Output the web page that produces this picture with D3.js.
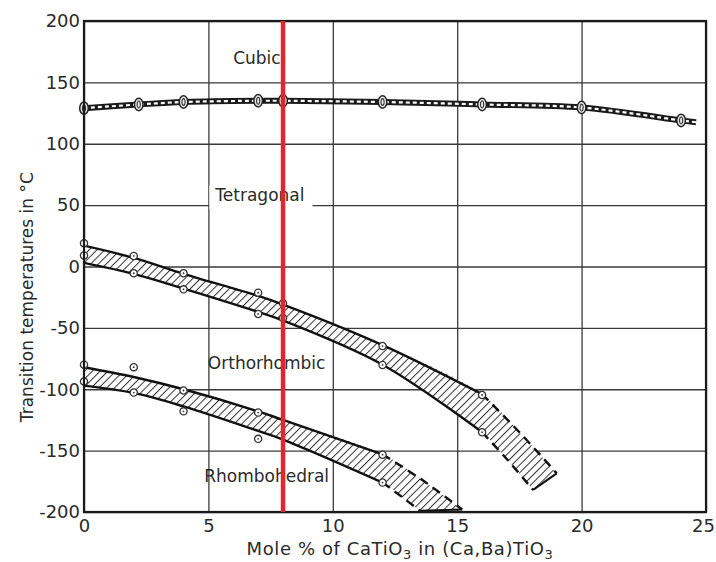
<!DOCTYPE html>
<html>
<head>
<meta charset="utf-8">
<script src="https://cdn.jsdelivr.net/npm/d3@7"></script>
<style>
  body { margin: 0; background: #fff; }
  text { font-family: "DejaVu Sans", sans-serif; fill: #2a2a2a; }
</style>
</head>
<body>
<svg id="chart"></svg>
<script>
// axis ticks
const xTicks = [0, 5, 10, 15, 20, 25];
const yTicks = [200, 150, 100, 50, 0, -50, -100, -150, -200];

// cubic / tetragonal transition
const cubicX = [0, 2.2, 4, 7, 8, 12, 16, 20, 24];
const cubicT = [129, 132, 134, 135, 135, 134, 132, 129.5, 119];
const cubicEndX = [24.6];
const cubicEndT = [117.5];

// tetragonal / orthorhombic band
const otUpperX = [0, 2, 4, 7, 8, 12, 16];
const otUpperT = [17, 7, -6, -24, -31, -64, -104];
const otLowerX = [0, 2, 4, 7, 8, 12, 16];
const otLowerT = [3, -6, -18, -37, -44, -80, -135];
const otUpperDashX = [16, 17.5, 19];
const otUpperDashT = [-104, -135, -168.5];
const otLowerDashX = [16, 17, 18.05];
const otLowerDashT = [-135, -157, -182];
const otPtsX = [0, 0, 2, 2, 4, 4, 7, 7, 8, 8, 12, 12, 16, 16];
const otPtsT = [19, 9, 8.6, -5.5, -5.5, -18.6, -21.3, -38.7, -30, -42, -64.8, -80.2, -104.7, -135];

// orthorhombic / rhombohedral band
const rhUpperX = [0, 2, 4, 7, 8, 12];
const rhUpperT = [-82, -90, -100, -118, -125, -153];
const rhLowerX = [0, 2, 4, 7, 8, 12];
const rhLowerT = [-97, -103, -114, -134, -141, -176];
const rhUpperDashX = [12, 13.6, 15.2];
const rhUpperDashT = [-153, -174, -198];
const rhLowerDashX = [12, 12.8, 13.5];
const rhLowerDashT = [-176, -188, -199];
const rhPtsX = [0, 0, 2, 2, 4, 4, 7, 7, 12, 12];
const rhPtsT = [-80, -93.7, -82, -102.7, -101, -118, -119, -140.4, -153.3, -176];

// phase labels
const phaseNames = ["Cubic", "Tetragonal", "Orthorhombic", "Rhombohedral"];
const phaseX = [6.95, 7.07, 7.34, 7.34];
const phaseT = [170, 58, -79, -171];

const markX = 8;

const W = 716, H = 562;
const margin = { top: 21, right: 10, bottom: 50, left: 84 };
const width = W - margin.left - margin.right;
const height = H - margin.top - margin.bottom;

const svg = d3.select("#chart").attr("width", W).attr("height", H);

const defs = svg.append("defs");
const pat = defs.append("pattern")
    .attr("id", "hatch")
    .attr("patternUnits", "userSpaceOnUse")
    .attr("width", 5.5).attr("height", 5.5)
    .attr("patternTransform", "rotate(45)");
pat.append("rect").attr("width", 5.5).attr("height", 5.5).attr("fill", "#fff");
pat.append("line")
    .attr("x1", 0).attr("y1", 0).attr("x2", 0).attr("y2", 5.5)
    .attr("stroke", "#333").attr("stroke-width", 2);

defs.append("clipPath").attr("id", "plotclip")
    .append("rect").attr("width", W - 94).attr("height", H - 71);

const g = svg.append("g").attr("transform", `translate(${margin.left},${margin.top})`);

const x = d3.scaleLinear().domain([0, 25]).range([0, width]);
const y = d3.scaleLinear().domain([-200, 200]).range([height, 0]);

// phase label backgrounds go under the grid's vertical lines
const labelBg = g.append("g");

// grid
g.append("g")
    .call(d3.axisLeft(y).tickValues(yTicks).tickSize(-width).tickFormat(""))
    .call(a => a.select(".domain").remove())
    .selectAll("line").attr("stroke", "#3a3a3a").attr("stroke-width", 1.3);
const vgrid = g.append("g")
    .attr("transform", `translate(0,${height})`)
    .call(d3.axisBottom(x).tickValues(xTicks).tickSize(height).tickFormat(""))
    .call(a => a.select(".domain").remove());
vgrid.selectAll("line").attr("stroke", "#3a3a3a").attr("stroke-width", 1.3)
    .attr("y2", -height);

// tick labels
g.append("g")
    .call(d3.axisLeft(y).tickValues(yTicks).tickSize(0).tickPadding(4).tickFormat(d => String(d)))
    .call(a => a.select(".domain").remove())
    .selectAll("text").style("font-size", "18px").attr("fill", "#2a2a2a");
g.append("g")
    .attr("transform", `translate(0,${height})`)
    .call(d3.axisBottom(x).tickValues(xTicks).tickSize(0).tickPadding(7).tickFormat(d => String(d)))
    .call(a => a.select(".domain").remove())
    .selectAll("text").style("font-size", "18px").attr("fill", "#2a2a2a")
    .attr("dx", d => d === 25 ? -3 : 0);

const zip = (xs, ts) => xs.map((v, i) => [v, ts[i]]);
const line = d3.line().x(d => x(d[0])).y(d => y(d[1])).curve(d3.curveCatmullRom);

const plot = g.append("g").attr("clip-path", "url(#plotclip)");

function band(upX, upT, upDX, upDT, loX, loT, loDX, loDT) {
    const up = zip(upX, upT).concat(zip(upDX, upDT).slice(1));
    const lo = zip(loX, loT).concat(zip(loDX, loDT).slice(1));
    const d = line(up) + line(lo.slice().reverse()).replace(/^M/, "L") + "Z";
    plot.append("path").attr("d", d).attr("fill", "url(#hatch)").attr("stroke", "none");
    [zip(upX, upT), zip(loX, loT)].forEach(pts => {
        plot.append("path").attr("d", line(pts)).attr("fill", "none")
            .attr("stroke", "#111").attr("stroke-width", 2.4);
    });
    [zip(upDX, upDT), zip(loDX, loDT)].forEach(pts => {
        plot.append("path").attr("d", line(pts)).attr("fill", "none")
            .attr("stroke", "#111").attr("stroke-width", 2.4)
            .attr("stroke-dasharray", "9,6");
    });
    plot.append("line")
        .attr("x1", x(upDX[upDX.length - 1])).attr("y1", y(upDT[upDT.length - 1]))
        .attr("x2", x(loDX[loDX.length - 1])).attr("y2", y(loDT[loDT.length - 1]))
        .attr("stroke", "#111").attr("stroke-width", 2);
}

band(otUpperX, otUpperT, otUpperDashX, otUpperDashT, otLowerX, otLowerT, otLowerDashX, otLowerDashT);
band(rhUpperX, rhUpperT, rhUpperDashX, rhUpperDashT, rhLowerX, rhLowerT, rhLowerDashX, rhLowerDashT);

// small circle markers
function dots(xs, ts) {
    const sel = g.append("g").selectAll("g").data(zip(xs, ts)).join("g")
        .attr("transform", d => `translate(${x(d[0])},${y(d[1])})`);
    sel.append("circle").attr("r", 3.6).attr("fill", "#fff")
        .attr("stroke", "#333").attr("stroke-width", 1.3);
    sel.append("circle").attr("r", 0.9).attr("fill", "#333");
}
dots(otPtsX, otPtsT);
dots(rhPtsX, rhPtsT);

// cubic line: double line with dashed centre
const cubicPts = zip(cubicX, cubicT).concat(zip(cubicEndX, cubicEndT));
g.append("path").attr("d", line(cubicPts)).attr("fill", "none")
    .attr("stroke", "#1a1a1a").attr("stroke-width", 6);
g.append("path").attr("d", line(cubicPts)).attr("fill", "none")
    .attr("stroke", "#fff").attr("stroke-width", 2.2).attr("stroke-dasharray", "4,3");
const cm = g.append("g").selectAll("g").data(zip(cubicX, cubicT)).join("g")
    .attr("transform", d => `translate(${x(d[0])},${y(d[1])})`);
cm.append("ellipse").attr("rx", 4.3).attr("ry", 6.2).attr("fill", "#e8e8e8")
    .attr("stroke", "#222").attr("stroke-width", 1.5);
cm.append("ellipse").attr("rx", 1.6).attr("ry", 3.4).attr("fill", "none")
    .attr("stroke", "#333").attr("stroke-width", 1.1);

// phase labels
const labels = g.append("g");
phaseNames.forEach((name, i) => {
    const t = labels.append("text")
        .attr("x", x(phaseX[i])).attr("y", y(phaseT[i]))
        .attr("dy", "0.35em").attr("text-anchor", "middle")
        .style("font-size", "17px").text(name);
    if (name === "Tetragonal") {
        // the label breaks the 50 °C grid line
        const b = t.node().getBBox();
        const x0 = x(5) + 1;
        labels.insert("rect", () => t.node())
            .attr("x", x0).attr("y", b.y).attr("width", b.x + b.width + 8 - x0).attr("height", b.height + 4)
            .attr("fill", "#fff");
    }
});

// frame
g.append("rect").attr("width", width).attr("height", height)
    .attr("fill", "none").attr("stroke", "#1a1a1a").attr("stroke-width", 2.2);

// red marker line
g.append("line")
    .attr("x1", x(markX)).attr("x2", x(markX)).attr("y1", 0).attr("y2", height)
    .attr("stroke", "#e3262b").attr("stroke-width", 4.5);

// axis titles
svg.append("text")
    .attr("transform", `translate(27,${margin.top + y(-25)}) rotate(-90)`)
    .attr("text-anchor", "middle").attr("dy", "0.35em")
    .style("font-size", "17px")
    .text("Transition temperatures in °C");

const xt = svg.append("text")
    .attr("x", margin.left + x(12.7)).attr("y", 555)
    .attr("text-anchor", "middle")
    .style("font-size", "18px").style("letter-spacing", "0.6px");
xt.append("tspan").text("Mole % of CaTiO");
xt.append("tspan").attr("dy", 4).style("font-size", "13px").text("3");
xt.append("tspan").attr("dy", -4).text(" in (Ca,Ba)TiO");
xt.append("tspan").attr("dy", 4).style("font-size", "13px").text("3");
</script>
</body>
</html>
